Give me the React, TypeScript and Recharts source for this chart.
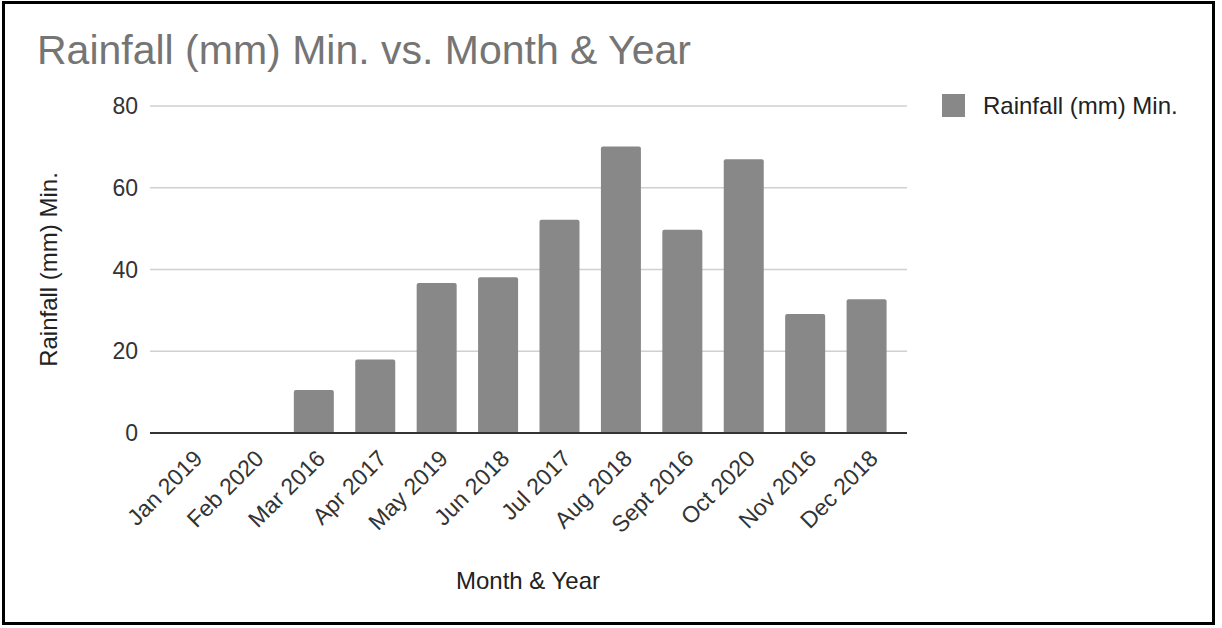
import React from 'react'
import { BarChart, Bar, XAxis, YAxis, CartesianGrid, Label } from 'recharts'

const months = ['Jan 2019', 'Feb 2020', 'Mar 2016', 'Apr 2017', 'May 2019', 'Jun 2018', 'Jul 2017', 'Aug 2018', 'Sept 2016', 'Oct 2020', 'Nov 2016', 'Dec 2018']
const rainfallMin = [0, 0, 10.5, 18.0, 36.7, 38.1, 52.2, 70.1, 49.7, 67.0, 29.1, 32.7]
const yTicks = [0, 20, 40, 60, 80]

const seriesName = 'Rainfall (mm) Min.'
const data = months.map((m, i) => ({ month: m, value: rainfallMin[i] }))

const FONT = 'Arial, "Liberation Sans", sans-serif'
const BAR = '#888888'

function XTick({ x, y, payload }: any) {
  return (
    <g transform={`translate(${x + 13},${y + 19}) rotate(-45)`}>
      <text x={0} y={0} textAnchor="end" fontSize={23} fill="#333" fontFamily={FONT}>{payload.value}</text>
    </g>
  )
}

export default function App() {
  return (
    <div style={{ position: 'absolute', left: 0, top: 0, width: 1222, height: 628, background: '#fff', overflow: 'hidden', fontFamily: FONT }}>
      <div style={{ position: 'absolute', left: 2, top: 1, width: 1207, height: 618, border: '3px solid #000' }} />
      <div style={{ position: 'absolute', left: 37, top: 30, fontSize: 41, lineHeight: '41px', color: '#757575', whiteSpace: 'nowrap' }}>
        Rainfall (mm) Min. vs. Month &amp; Year
      </div>
      <div style={{ position: 'absolute', left: 942, top: 94, width: 23, height: 23, background: BAR }} />
      <div style={{ position: 'absolute', left: 983, top: 93, fontSize: 24, lineHeight: '26px', color: '#222', whiteSpace: 'nowrap' }}>
        {seriesName}
      </div>
      <div style={{ position: 'absolute', left: 0, top: 0 }}>
        <BarChart width={1222} height={628} data={data} margin={{ top: 106, right: 315, left: 10, bottom: 25 }}>
          <CartesianGrid vertical={false} stroke="#d0d0d0" strokeWidth={1.5} />
          <XAxis
            dataKey="month"
            interval={0}
            height={170}
            padding={{ left: 10, right: 10 }}
            tickLine={false}
            axisLine={{ stroke: '#333', strokeWidth: 2 }}
            tick={<XTick />}
          >
            <Label
              content={() => (
                <text x={528} y={580} textAnchor="middle" dominantBaseline="central" fontSize={24} fill="#222" fontFamily={FONT}>Month &amp; Year</text>
              )}
            />
          </XAxis>
          <YAxis
            width={140}
            domain={[0, 80]}
            ticks={yTicks}
            tickLine={false}
            axisLine={false}
            tickMargin={6}
            tick={{ fontSize: 23, fill: '#333', fontFamily: FONT }}
          >
            <Label
              content={({ viewBox }: any) => {
                const cy = viewBox.y + viewBox.height / 2
                return (
                  <text x={48} y={cy} transform={`rotate(-90, 48, ${cy})`} textAnchor="middle" dominantBaseline="central" fontSize={24} fill="#222" fontFamily={FONT}>{seriesName}</text>
                )
              }}
            />
          </YAxis>
          <Bar dataKey="value" name={seriesName} fill={BAR} barSize={40} radius={[2, 2, 0, 0]} isAnimationActive={false} />
        </BarChart>
      </div>
    </div>
  )
}
